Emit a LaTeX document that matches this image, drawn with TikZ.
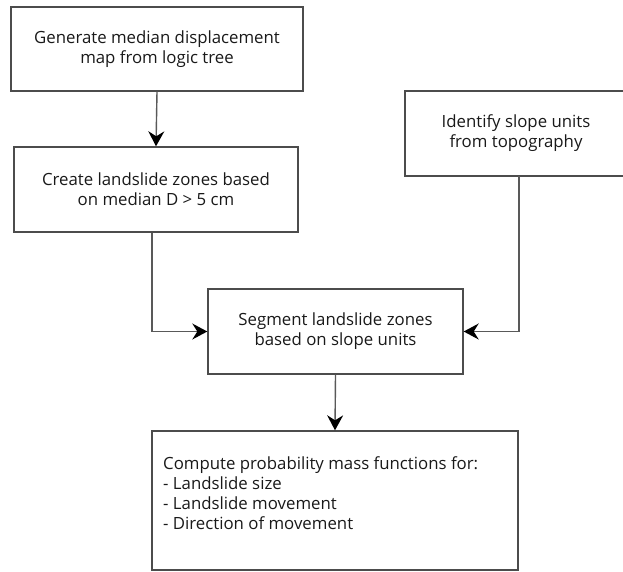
\documentclass[tikz,border=0pt]{standalone}
\usepackage{fontspec}
\setmainfont{Open Sans}
\usetikzlibrary{arrows.meta}
\begin{document}
\begin{tikzpicture}[x=1pt,y=-1pt,
  txt/.style={font=\fontsize{16.8}{20}\selectfont, text=black!90},
  box/.style={txt, draw=black!70, line width=1.4pt, inner sep=0pt, align=center},
  flow/.style={draw=black!65, line width=1.4pt,
    -{Stealth[length=15pt,width=16pt,inset=5pt,black]}}]
\useasboundingbox (0,0) rectangle (623,571);
% process boxes
\node[box, minimum width=292pt, minimum height=84pt] (gen) at (157,49)
  {Generate median displacement\\map from logic tree};
\node[box, minimum width=284pt, minimum height=85pt] (zones) at (156,189.5)
  {Create landslide zones based\\on median D > 5 cm};
\node[box, minimum width=222pt, minimum height=85pt] (slope) at (516,133.5)
  {Identify slope units\\from topography};
\node[box, minimum width=255pt, minimum height=85pt] (seg) at (335.5,331.5)
  {Segment landslide zones\\based on slope units};
\node[box, minimum width=366pt, minimum height=139pt] (pmf) at (335,500.5) {};
\node[txt, anchor=north west, inner sep=0pt, align=left] (pmftext) at (163,456)
  {Compute probability mass functions for:\\- Landslide size\\- Landslide movement\\- Direction of movement};
% connectors
\coordinate (tap) at (519,176);
\draw[flow] (gen.south) -- (zones.north);
\draw[flow] (zones.south -| 152,0) |- (seg.west);
\draw[flow] (tap) |- (seg.east);
\draw[flow] (seg.south) -- (pmf.north);
\end{tikzpicture}
\end{document}
